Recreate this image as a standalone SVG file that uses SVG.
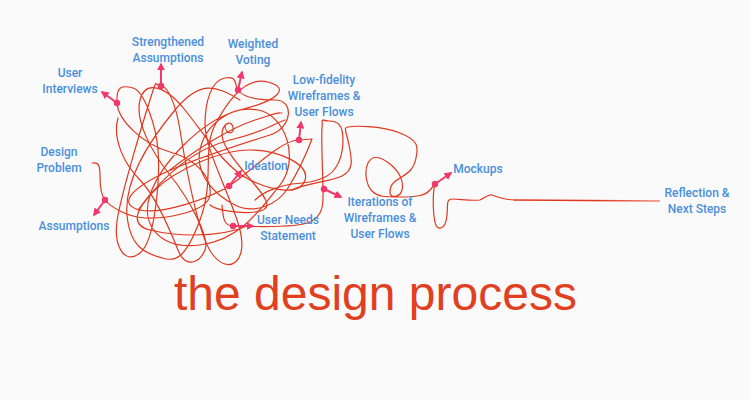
<svg xmlns="http://www.w3.org/2000/svg" width="750" height="400" viewBox="0 0 750 400">
<defs>
<style>
.s{fill:none;stroke:#e0381f;stroke-width:1.2;stroke-linecap:round;stroke-linejoin:round}
.a{stroke:#f2386a;stroke-width:2;fill:none}
.d{fill:#f2386a}
.t{font-family:Roboto,"Liberation Sans",sans-serif;font-size:12px;font-weight:500;fill:#4a8fdc;text-anchor:middle}
</style>
<marker id="ah" viewBox="0 0 10 10" refX="8" refY="5" markerWidth="4" markerHeight="4" orient="auto"><path d="M0,0 L10,5 L0,10 z" fill="#f2386a"/></marker>
<linearGradient id="fade" gradientUnits="userSpaceOnUse" x1="500" y1="0" x2="660" y2="0"><stop offset="0" stop-color="#e0381f"/><stop offset="0.6" stop-color="#e0381f"/><stop offset="1" stop-color="#ef8a7a"/></linearGradient>
</defs>
<rect width="750" height="400" fill="#fafafa"/>
<g id="scribble">
<path class="s" d="M 92 163 C 99 162 100 166 100 176 S 101 195 105 200 S 125 217 145 218 S 208 212 210 195 S 198 160 170 152 S 118 120 117 103 S 122 85 133 88 S 156 125 158 150 S 156 240 140 253 S 112 245 118 215 S 142 125 150 100 S 154 86 161 86 S 176 105 180 130 S 197 235 213 255 S 248 262 240 230 S 205 150 205 125 S 212 80 225 78 S 234 84 238 90 S 255 100 275 100 S 292 128 270 135 S 190 160 160 175 S 118 205 140 210 S 210 198 229 186 S 280 140 299 140 L 312 139 C 306 155 298 172 288 188 S 255 215 235 205 S 195 175 200 150 S 230 105 258 110 S 300 160 280 185 S 240 240 200 245 S 140 225 150 195 S 200 120 240 110 S 290 88 268 82 S 228 100 215 125 S 215 180 200 220 S 175 262 162 258 S 130 250 127 215 S 150 140 175 110 S 215 85 240 100"/>
<path class="s" d="M 118 118 C 112 140 125 165 140 180 S 170 230 178 250 S 200 262 205 250 S 190 200 170 175 S 135 120 140 100 S 165 85 185 110 S 225 168 250 180 S 300 195 305 180 S 280 150 250 150 S 175 170 155 190 S 130 225 150 230 S 215 240 250 225"/>
<path class="s" d="M 225 125 C 225 135 235 135 233 127 S 222 124 222 135 S 238 165 255 185 S 270 210 255 212 S 215 210 210 205"/>
<path class="s" d="M 138 210 C 160 180 190 150 230 140 S 270 125 285 120 M 170 170 C 195 150 230 128 255 120 S 275 113 282 113"/>
<path class="s" d="M 222 205 C 223 218 224 226 233 226 S 295 229 310 222 S 323 200 323 189 S 321 140 322 128 S 320 121 329 121 S 343 125 343 140 S 338 172 323 178 S 300 183 292 184 S 265 190 255 200"/>
<path class="s" d="M 292 190 C 305 183 330 182 342 176 S 352 160 349 145 S 343 128 348 127 S 380 125 400 133 S 418 148 416 158 S 410 172 400 178 S 390 188 390 193 S 400 198 402 190 S 400 172 390 164 S 372 155 368 163 S 366 185 372 191 S 385 197 400 197 S 425 196 430 190 L 435 184 C 432 195 433 222 437 227 C 441 230 446 227 447 215 C 448 205 446 199 452 199 C 460 199 470 201 480 200 C 485 198 488 194 492 195 C 498 197 503 200 515 200"/>
<path d="M 514 200 L 660 201" fill="none" stroke="url(#fade)" stroke-width="1.4"/>
</g>
<g id="connectors">
<line class="a" x1="105" y1="200" x2="94" y2="215" marker-end="url(#ah)"/>
<line class="a" x1="117" y1="103" x2="102" y2="92" marker-end="url(#ah)"/>
<line class="a" x1="161" y1="86" x2="161" y2="64" marker-end="url(#ah)"/>
<line class="a" x1="238" y1="90" x2="242" y2="72" marker-end="url(#ah)"/>
<line class="a" x1="299" y1="140" x2="301" y2="122" marker-end="url(#ah)"/>
<line class="a" x1="229" y1="186" x2="241" y2="171" marker-end="url(#ah)"/>
<line class="a" x1="233" y1="226" x2="253" y2="226" marker-end="url(#ah)"/>
<line class="a" x1="324" y1="189" x2="341" y2="197" marker-end="url(#ah)"/>
<line class="a" x1="435" y1="184" x2="451" y2="173" marker-end="url(#ah)"/>
<circle class="d" cx="105" cy="200" r="3.2"/>
<circle class="d" cx="117" cy="103" r="3.2"/>
<circle class="d" cx="161" cy="86" r="3.2"/>
<circle class="d" cx="238" cy="90" r="3.2"/>
<circle class="d" cx="299" cy="140" r="3.2"/>
<circle class="d" cx="229" cy="186" r="3.2"/>
<circle class="d" cx="233" cy="226" r="3.2"/>
<circle class="d" cx="324" cy="189" r="3.2"/>
<circle class="d" cx="435" cy="184" r="3.2"/>
</g>
<g id="n-design-problem"><text class="t" x="59" y="156">Design</text><text class="t" x="59" y="172">Problem</text></g>
<g id="n-assumptions"><text class="t" x="74" y="230">Assumptions</text></g>
<g id="n-user-interviews"><text class="t" x="70" y="77">User</text><text class="t" x="70" y="93">Interviews</text></g>
<g id="n-strengthened"><text class="t" x="168" y="46">Strengthened</text><text class="t" x="168" y="62">Assumptions</text></g>
<g id="n-weighted"><text class="t" x="253" y="48">Weighted</text><text class="t" x="253" y="64">Voting</text></g>
<g id="n-lowfi"><text class="t" x="324" y="84">Low-fidelity</text><text class="t" x="324" y="100">Wireframes &amp;</text><text class="t" x="324" y="116">User Flows</text></g>
<g id="n-ideation"><text class="t" x="266" y="170">Ideation</text></g>
<g id="n-user-needs"><text class="t" x="288" y="224">User Needs</text><text class="t" x="288" y="240">Statement</text></g>
<g id="n-iterations"><text class="t" x="380" y="206">Iterations of</text><text class="t" x="380" y="222">Wireframes &amp;</text><text class="t" x="380" y="238">User Flows</text></g>
<g id="n-mockups"><text class="t" x="478" y="173">Mockups</text></g>
<g id="n-reflection"><text class="t" x="697" y="197">Reflection &amp;</text><text class="t" x="697" y="213">Next Steps</text></g>
<text x="174" y="310" font-family="'Liberation Sans',Arial,sans-serif" font-size="48" fill="#e0401f">the design process</text>
</svg>
